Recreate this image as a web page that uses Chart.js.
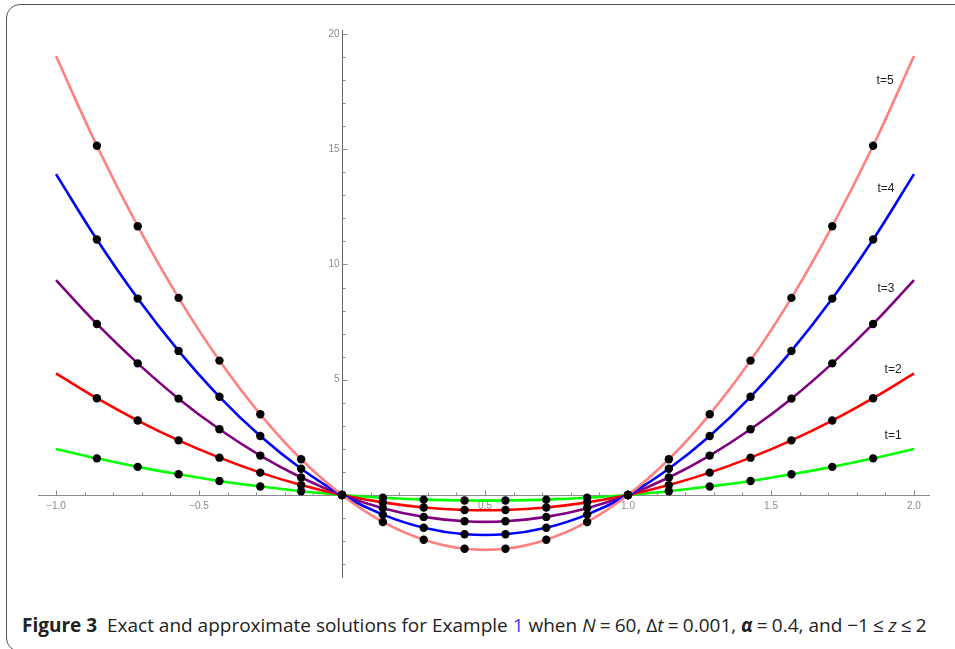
<!DOCTYPE html>
<html>
<head>
<meta charset="utf-8">
<script src="https://cdn.jsdelivr.net/npm/chart.js@4/dist/chart.umd.min.js"></script>
<style>
  html, body { margin: 0; padding: 0; background: #fff; }
  body { width: 955px; height: 649px; position: relative; overflow: hidden; }
  #frame {
    position: absolute; left: 6px; top: 4px; width: 1000px; height: 648px;
    border: 1.5px solid #555; border-radius: 14px; box-sizing: border-box;
  }
  #wrap { position: absolute; left: 0; top: 0; width: 955px; height: 600px; }
  #caption {
    position: absolute; left: 22px; top: 616px; white-space: nowrap;
    font-family: "Open Sans", sans-serif; font-size: 19px; line-height: 19px; color: #222;
  }
  #caption b { font-weight: 700; }
  #caption .ref { color: #3a3aff; }
  #caption i { font-style: italic; }
  #caption .op { padding: 0 0.22em; }
</style>
</head>
<body>
<div id="frame"></div>
<div id="wrap"><canvas id="myChart" width="955" height="600"></canvas></div>
<div id="caption"><b>Figure 3</b>&nbsp; Exact and approximate solutions for Example <span class="ref">1</span> when <i>N</i><span class="op">=</span>60, Δ<i>t</i><span class="op">=</span>0.001, <b><i>α</i></b><span class="op">=</span>0.4, and −1<span class="op">≤</span><i>z</i><span class="op">≤</span>2</div>
<script>
// z grid: k/7 for k = -7..14
var zValues = [];
for (var k = -7; k <= 14; k++) zValues.push(k / 7);

var u1 = [2.00, 1.59, 1.22, 0.90, 0.61, 0.37, 0.16, 0, -0.12, -0.20, -0.24, -0.24, -0.20, -0.12, 0, 0.16, 0.37, 0.61, 0.90, 1.22, 1.59, 2.00];
var u2 = [5.28, 4.20, 3.23, 2.37, 1.62, 0.97, 0.43, 0, -0.32, -0.54, -0.65, -0.65, -0.54, -0.32, 0, 0.43, 0.97, 1.62, 2.37, 3.23, 4.20, 5.28];
var u3 = [9.32, 7.42, 5.71, 4.18, 2.85, 1.71, 0.76, 0, -0.57, -0.95, -1.14, -1.14, -0.95, -0.57, 0, 0.76, 1.71, 2.85, 4.18, 5.71, 7.42, 9.32];
var u4 = [13.92, 11.08, 8.52, 6.25, 4.26, 2.56, 1.14, 0, -0.85, -1.42, -1.70, -1.70, -1.42, -0.85, 0, 1.14, 2.56, 4.26, 6.25, 8.52, 11.08, 13.92];
var u5 = [19.04, 15.15, 11.66, 8.55, 5.83, 3.50, 1.55, 0, -1.17, -1.94, -2.33, -2.33, -1.94, -1.17, 0, 1.55, 3.50, 5.83, 8.55, 11.66, 15.15, 19.04];

var seriesNames = ['t=1', 't=2', 't=3', 't=4', 't=5'];
var seriesData = [u1, u2, u3, u4, u5];
var seriesColors = ['#00ff00', '#ff0000', '#800080', '#0000ff', '#ff8080'];

// where each t= label sits (data units)
var labelPos = [[1.927, 2.56], [1.927, 5.42], [1.902, 8.94], [1.902, 13.28], [1.899, 17.96]];

var xTicks = [-1.0, -0.5, 0.5, 1.0, 1.5, 2.0];
var yTicks = [5, 10, 15, 20];

function toPoints(arr) {
    return arr.map(function(v, i) { return { x: zValues[i], y: v }; });
}

var datasets = [];
// lines first, t=5 at the back
for (var s = seriesData.length - 1; s >= 0; s--) {
    datasets.push({
        label: seriesNames[s],
        data: toPoints(seriesData[s]),
        borderColor: seriesColors[s],
        borderWidth: 2.6,
        pointRadius: 0,
        tension: 0.4,
        fill: false,
        order: 2
    });
}
// black markers on top of all lines (not at the end points)
for (var s = 0; s < seriesData.length; s++) {
    datasets.push({
        label: seriesNames[s] + ' approx',
        data: toPoints(seriesData[s]),
        showLine: false,
        pointRadius: function(ctx) {
            return (ctx.dataIndex === 0 || ctx.dataIndex === zValues.length - 1) ? 0 : 4.2;
        },
        pointBackgroundColor: '#000',
        pointBorderWidth: 0,
        order: 1
    });
}

// axes through the origin, mathematica style
var axesPlugin = {
    id: 'originAxes',
    beforeDatasetsDraw: function(chart) {
        var ctx = chart.ctx, xs = chart.scales.x, ys = chart.scales.y, area = chart.chartArea;
        var x0 = Math.round(xs.getPixelForValue(0)) + 0.5;
        var y0 = Math.round(ys.getPixelForValue(0)) + 0.5;
        ctx.save();
        ctx.strokeStyle = '#8a8a8a';
        ctx.lineWidth = 1;
        ctx.beginPath();
        ctx.moveTo(area.left, y0); ctx.lineTo(area.right, y0);
        ctx.stroke();
        ctx.strokeStyle = '#666';
        ctx.beginPath();
        ctx.moveTo(x0, area.top); ctx.lineTo(x0, area.bottom);
        ctx.stroke();

        ctx.strokeStyle = '#8a8a8a';
        ctx.beginPath();
        for (var i = -10; i <= 20; i++) {
            if (i === 0) continue;
            var px = Math.round(xs.getPixelForValue(i / 10)) + 0.5;
            var len = (i % 5 === 0) ? 5 : 3;
            ctx.moveTo(px, y0); ctx.lineTo(px, y0 - len);
        }
        for (var j = -3; j <= 20; j++) {
            if (j === 0) continue;
            var py = Math.round(ys.getPixelForValue(j)) + 0.5;
            var len2 = (j % 5 === 0) ? 5 : 3;
            ctx.moveTo(x0, py); ctx.lineTo(x0 + len2, py);
        }
        ctx.stroke();

        ctx.fillStyle = '#8a8a8a';
        ctx.font = '10px "Liberation Sans", Arial, sans-serif';
        ctx.textAlign = 'center';
        ctx.textBaseline = 'middle';
        xTicks.forEach(function(v) {
            var txt = (v < 0 ? '\u2212' : '') + Math.abs(v).toFixed(1);
            ctx.fillText(txt, xs.getPixelForValue(v), y0 + 11);
        });
        ctx.textAlign = 'right';
        yTicks.forEach(function(v) {
            ctx.fillText(String(v), x0 - 3, ys.getPixelForValue(v));
        });
        ctx.restore();
    },
    afterDatasetsDraw: function(chart) {
        var ctx = chart.ctx, xs = chart.scales.x, ys = chart.scales.y;
        ctx.save();
        ctx.fillStyle = '#222';
        ctx.font = '12px "Liberation Sans", Arial, sans-serif';
        ctx.textAlign = 'center';
        ctx.textBaseline = 'middle';
        labelPos.forEach(function(p, i) {
            ctx.fillText(seriesNames[i], xs.getPixelForValue(p[0]), ys.getPixelForValue(p[1]));
        });
        ctx.restore();
    }
};

var ctx = document.getElementById('myChart').getContext('2d');
var chart = new Chart(ctx, {
    type: 'line',
    data: { datasets: datasets },
    options: {
        responsive: false,
        animation: false,
        layout: { padding: { left: 38, top: 30, right: 25, bottom: 22 } },
        plugins: { legend: { display: false }, tooltip: { enabled: false } },
        scales: {
            x: { type: 'linear', min: -1.063, max: 2.056, display: false },
            y: { type: 'linear', min: -3.6, max: 20.17, display: false }
        }
    },
    plugins: [axesPlugin]
});
</script>
</body>
</html>
